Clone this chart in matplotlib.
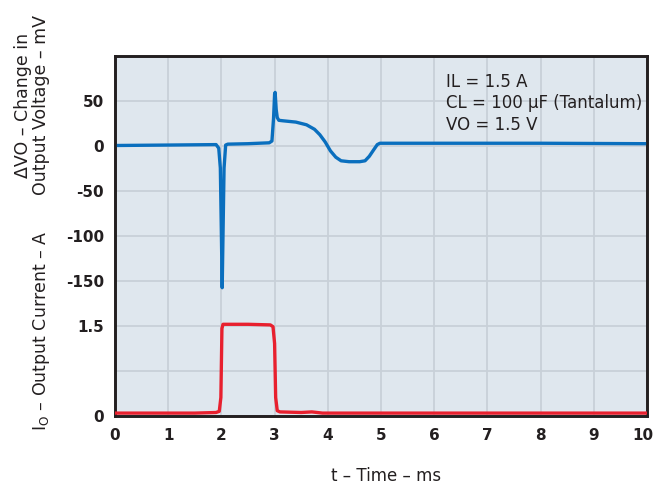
import matplotlib
matplotlib.use('Agg')
from matplotlib import pyplot as plt
from matplotlib.transforms import ScaledTranslation

plt.rcParams['font.family'] = ['DejaVu Sans']

# output voltage change (ms, mV)
t_v = [0, 1.0, 1.9, 1.95, 1.98, 2.0, 2.015, 2.03, 2.05, 2.08, 2.12, 2.5, 2.9,
       2.95, 2.98, 3.0, 3.01, 3.03, 3.05, 3.08, 3.15, 3.4, 3.6, 3.75, 3.85,
       3.95, 4.05, 4.15, 4.25, 4.4, 4.6, 4.7, 4.78, 4.86, 4.93, 4.98, 6, 8, 10]
dv = [0, 0.5, 1, -3, -25, -100, -158, -100, -25, 0.5, 1.5, 2, 3,
      5, 30, 57, 59, 40, 31, 28, 27.5, 26, 23, 18, 12,
      4, -6, -13, -17, -18, -18, -17, -12, -5, 1, 2.5, 2.5, 2.5, 2]

# output current (ms, A)
t_i = [0, 1.5, 1.9, 1.96, 1.99, 2.01, 2.03, 2.5, 2.92, 2.97, 3.0, 3.02,
       3.05, 3.1, 3.5, 3.7, 3.9, 5, 10]
io = [0.04, 0.04, 0.05, 0.07, 0.3, 1.45, 1.52, 1.52, 1.51, 1.48, 1.2, 0.3,
      0.08, 0.06, 0.05, 0.06, 0.04, 0.04, 0.04]

x_ticks = [0, 1, 2, 3, 4, 5, 6, 7, 8, 9, 10]
v_ticks = [-300, -250, -200, -150, -100, -50, 0, 50, 100]
v_labels = ['', '', '', '-150', '-100', '-50', '0', '50', '']
i_ticks = [0, 1.5]
i_labels = ['0', '1.5']

ink = '#231f20'

fig = plt.figure(figsize=(6.55, 4.85), dpi=100)
ax = fig.add_axes([115/655, 1 - 416.5/485, 532/655, 360/485])
ax.set_facecolor('#dfe7ee')

ax.plot(t_v, dv, color='#0a6fbe', lw=2.4, zorder=3)
ax.set_xlim(0, 10)
ax.set_ylim(-300, 100)
ax.set_xticks(x_ticks)
ax.set_yticks(v_ticks)
ax.set_yticklabels(v_labels)
ax.grid(True, color='#c8d0d8', lw=1.3)
ax.set_axisbelow(True)

ax2 = ax.twinx()
ax2.plot(t_i, io, color='#e8202e', lw=2.4, zorder=3)
ax2.set_ylim(0, 6)
ax2.set_yticks(i_ticks)
ax2.set_yticklabels(i_labels)
ax2.yaxis.tick_left()

for a in (ax, ax2):
    a.tick_params(length=0, pad=8, labelsize=11, labelcolor=ink)
    for lab in a.get_xticklabels() + a.get_yticklabels():
        lab.set_fontweight('bold')
    for s in a.spines.values():
        s.set_color(ink)
        s.set_linewidth(1.9)

# keep the "10" inside the figure edge
last = ax.get_xticklabels()[-1]
last.set_transform(last.get_transform() + ScaledTranslation(-4/100, 0, fig.dpi_scale_trans))

fig.text(386/655, 1 - 476/485, 't \u2013 Time \u2013 ms', ha='center',
         va='center', fontsize=12, color=ink)
fig.text(32/655, 1 - 105/485, '\u0394VO \u2013 Change in\nOutput Voltage \u2013 mV',
         rotation=90, ha='center', va='center', fontsize=12.5, color=ink,
         linespacing=1.0)
fig.text(41.5/655, 1 - 331/485, 'I$_\\mathregular{O}$ \u2013 Output Current \u2013 A',
         rotation=90, ha='center', va='center', fontsize=12.5, color=ink)

ax.text(6.22, 82, 'IL = 1.5 A\nCL = 100 \u03bcF (Tantalum)\nVO = 1.5 V',
        ha='left', va='top', fontsize=12, color=ink, linespacing=1.25)

fig.savefig('out.png', dpi=100)
